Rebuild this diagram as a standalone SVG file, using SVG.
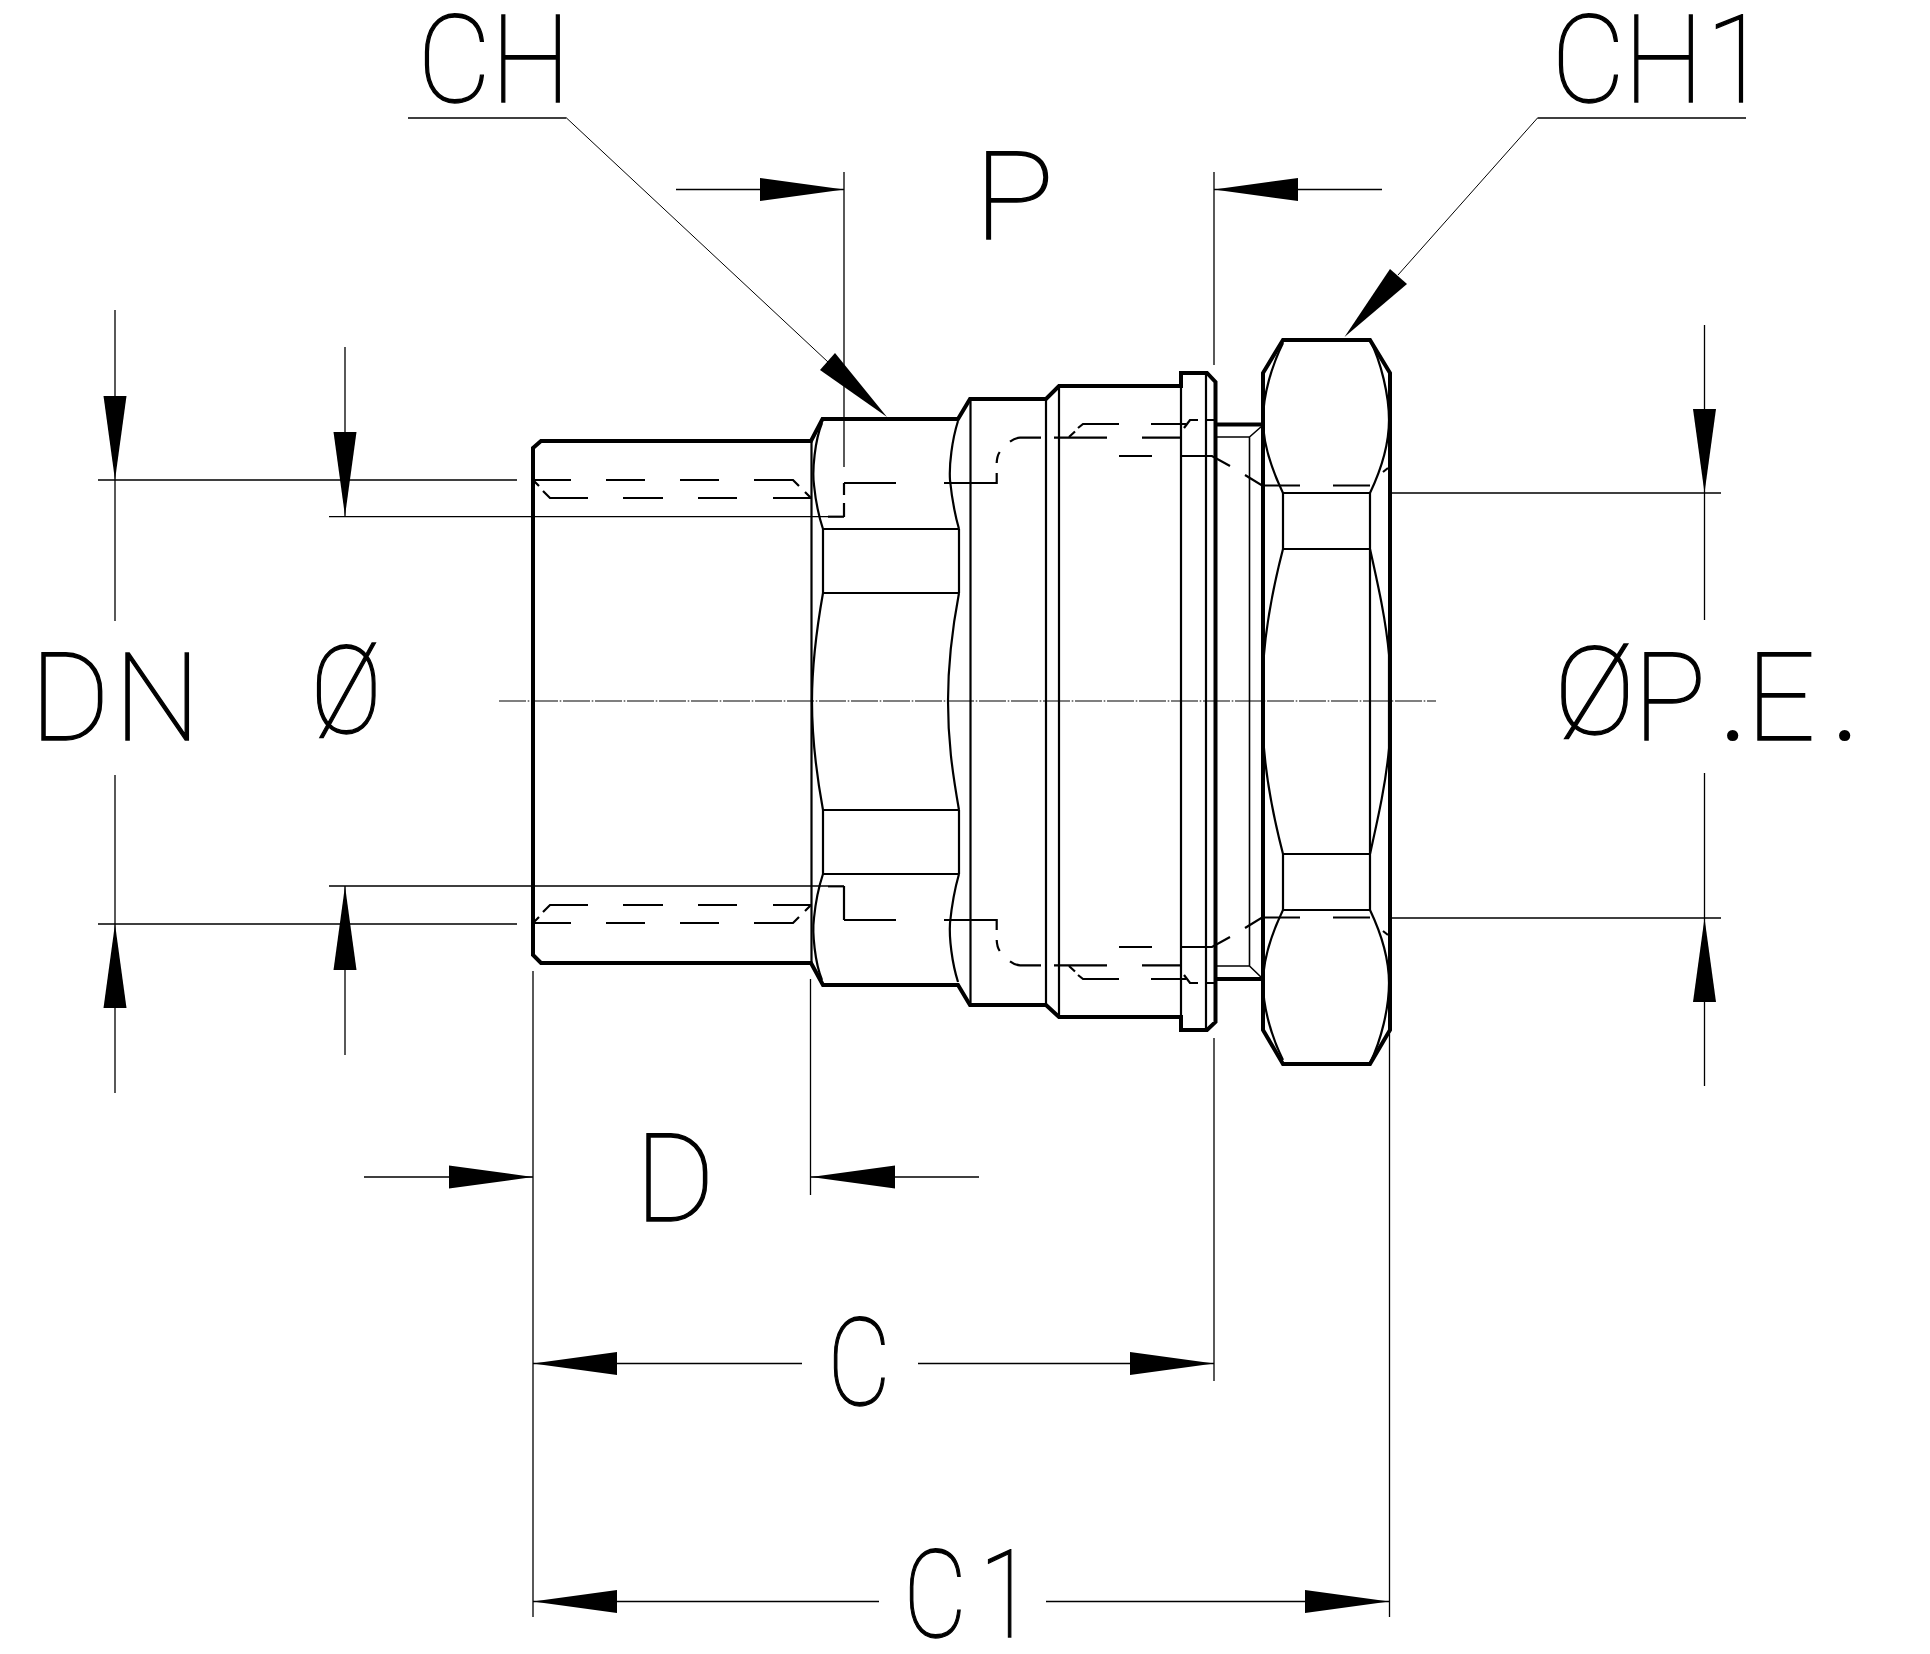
<svg xmlns="http://www.w3.org/2000/svg" xmlns:xlink="http://www.w3.org/1999/xlink" width="1930" height="1654" viewBox="0 0 1930 1654">
<style>
.k{fill:none;stroke:#000;stroke-width:4;stroke-linejoin:miter;stroke-linecap:butt}
.m{fill:none;stroke:#000;stroke-width:2.2}
.s{fill:none;stroke:#000;stroke-width:1.6}
.h{fill:none;stroke:#000;stroke-width:2.2}
.d{fill:none;stroke:#000;stroke-width:1.3}
.l{fill:none;stroke:#000;stroke-width:1}
.c{fill:none;stroke:#000;stroke-width:1.2;stroke-dasharray:27 1.7 1.6 1.7}
.a{fill:#000;stroke:none}
.t{font-family:"Roboto","Liberation Sans",sans-serif;font-weight:100;font-size:122px;fill:#000;stroke:#000;stroke-width:1.3}
.p{font-weight:400;font-size:100px;stroke:none}
</style>
<rect width="1930" height="1654" fill="#fff"/>
<defs>
<path id="ar" class="a" d="M0 0L-84 -11.500V11.500Z"/>
<g id="hidden-half">
<path class="h" d="M533 480H571M606 480H645M680 480H719M754 480H793L799 486M805 492L811 498M811 498H773M737 498H698M663 498H623M588 498H550L543 491M539 486L533 480"/>
<path class="h" d="M844 483H896M944 483H996.700V473M996.700 463Q997 456 999.700 452M1010 441.700Q1015 438 1020 437.700H1041M1054 437.700H1107M1142 437.700H1180"/>
<path class="h" d="M1069 437L1075 431.500M1078 428L1083 424H1119M1151 424H1186M1184 428L1190 420H1198M1206 420H1217"/>
<path class="h" d="M1119 456H1152M1181 456H1212L1230 466M1245 475L1262 485.500H1300M1333 485.500H1370M1383 472L1388 468"/>
<path class="h" d="M828 516.700H844"/>
</g>
<g id="nut-lens">
<path class="m" d="M1283 343C1272 365 1263 395 1263 420C1263 445 1272 470 1283 493"/>
<path class="m" d="M1370 340C1381 362 1389 395 1389 420C1389 445 1380 472 1370 493"/>
<path class="m" d="M1283 549C1275 580 1265 625 1263 670"/>
<path class="m" d="M1370 549C1378 585 1386 620 1389 655"/>
</g>
<g id="hex-lens">
<path class="m" d="M822 423C815 440 812 470 814 485C816 505 820 520 823 529"/>
<path class="m" d="M958 421C952 440 949 465 950 480C952 500 955 515 959 529"/>
</g>
</defs>

<g id="fitting-body">
<path class="k" d="M533 448L541 441H811L822.500 419H958L970 399H1046L1059 386H1181V373H1207L1215.500 382V1022L1207 1030H1181V1017H1059L1046 1005H970L958 985H823L811 963H541L533 955Z"/>
<path class="m" d="M811.500 441V963M970.500 399V1005M1046 399V1005M1059 386V1017M1181 373V1030M1206 373V1030"/>
<path class="m" d="M823 529V593M959 529V593M823 529H959M823 593H959M823 810V874M959 810V874M823 810H959M823 874H959"/>
<use href="#hex-lens"/>
<use href="#hex-lens" transform="matrix(1 0 0 -1 0 1403)"/>
<path class="m" d="M823 593Q812 655 812 701Q812 750 823 810"/>
<path class="m" d="M959 593C952 630 948 665 948 701C948 740 952 770 959 810"/>
</g>

<g id="neck">
<path class="k" d="M1216 424.500H1263M1216 979H1263"/>
<path class="s" d="M1217 437H1249.500V966H1217M1249.500 437L1262 426M1249.500 966L1262 978"/>
</g>

<g id="nut">
<path class="k" d="M1263 373L1283 340H1370L1390 373V1030L1370 1064H1283L1263 1030Z"/>
<path class="m" d="M1283 493V549M1283 854V910M1370 493V910M1283 493H1370M1283 549H1370M1283 854H1370M1283 910H1370"/>
<use href="#nut-lens"/>
<use href="#nut-lens" transform="matrix(1 0 0 -1 0 1403)"/>
<path class="m" d="M1263 670V733M1389 655V748"/>
</g>

<g id="hidden-lines">
<use href="#hidden-half"/>
<use href="#hidden-half" transform="matrix(1 0 0 -1 0 1403)"/>
<path class="h" d="M844 483V495M844 503V517M844 886V920"/>
</g>

<g id="centerline"><path class="c" d="M499 701H1436"/></g>

<g id="connectors">
<path class="d" d="M98 480H517M98 924H517M329 516.700H828M329 886H828"/>
<path class="d" d="M115 310V621M115 775V1093M345 347V516M345 886V1055"/>
<use href="#ar" transform="translate(115 480) rotate(90)"/>
<use href="#ar" transform="translate(115 924) rotate(-90)"/>
<use href="#ar" transform="translate(345 516) rotate(90)"/>
<use href="#ar" transform="translate(345 886) rotate(-90)"/>
<path class="d" d="M1390 493H1721M1390 918H1721M1704.500 325V620M1704.500 773V1086"/>
<use href="#ar" transform="translate(1704.500 493) rotate(90)"/>
<use href="#ar" transform="translate(1704.500 918) rotate(-90)"/>
<path class="d" d="M844 172V467M1214 172V365M676 189.500H844M1214 189.500H1382"/>
<use href="#ar" transform="translate(844 189.500)"/>
<use href="#ar" transform="translate(1214 189.500) rotate(180)"/>
<path class="d" d="M533 971V1617M810.500 979V1195M1214 1038V1381M1389.500 1034V1617"/>
<path class="d" d="M364 1177H533M811 1177H979"/>
<use href="#ar" transform="translate(533 1177)"/>
<use href="#ar" transform="translate(811 1177) rotate(180)"/>
<path class="d" d="M533 1363.500H802M918 1363.500H1214"/>
<use href="#ar" transform="translate(533 1363.500) rotate(180)"/>
<use href="#ar" transform="translate(1214 1363.500)"/>
<path class="d" d="M533 1601.500H879M1046 1601.500H1389"/>
<use href="#ar" transform="translate(533 1601.500) rotate(180)"/>
<use href="#ar" transform="translate(1389 1601.500)"/>
<path class="d" d="M408 118H566.500M1746 118H1537.500"/>
<path class="l" d="M566.500 118L828 362M1537.500 118L1398 275"/>
<path class="a" d="M887 417L835 353L820 370Z"/>
<path class="a" d="M1344.500 337L1390 269L1407 284Z"/>
</g>

<g id="labels">
<text class="t" x="30 114" y="740">DN</text>
<text class="t" transform="translate(310.500 733) scale(.88 1)" x="0" y="0">Ø</text>
<text class="t" y="740"><tspan x="1554" y="734">Ø</tspan><tspan x="1633" y="740">P</tspan><tspan class="p" x="1720" y="740">.</tspan><tspan x="1746" y="740">E</tspan><tspan class="p" x="1832" y="740">.</tspan></text>
<text class="t" transform="translate(417.600 102) scale(.93 1)" x="0 78.800" y="0">CH</text>
<text class="t" transform="translate(1551.600 102) scale(.93 1)" x="0 77.700 166" y="0">CH1</text>
<text class="t" transform="translate(973.800 239) scale(1.1 1)" x="0" y="0">P</text>
<text class="t" x="635" y="1221">D</text>
<text class="t" transform="translate(827.600 1405) scale(.8 1)" x="0" y="0">C</text>
<text class="t" transform="translate(903.600 1637) scale(.8 1)" x="0 95" y="0">C1</text>
</g>
</svg>
